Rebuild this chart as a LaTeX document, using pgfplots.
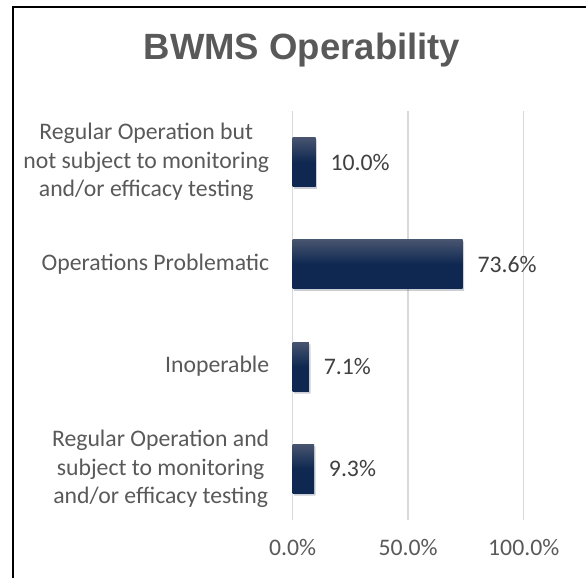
\documentclass[border=0pt]{standalone}
\usepackage{fontspec}
\setmainfont{Carlito}
\newfontfamily\titlefont{Liberation Sans}
\usepackage{pgfplots}
\pgfplotsset{compat=1.18}
\usetikzlibrary{shadows}
\definecolor{barLight}{HTML}{47546F}
\definecolor{barDark}{HTML}{0E2851}
\definecolor{textGray}{HTML}{595959}
\definecolor{valGray}{HTML}{404040}
\definecolor{gridGray}{HTML}{D9D9D9}

\begin{document}
\begin{tikzpicture}
\path[use as bounding box] (0pt,0pt) rectangle (439.5pt,433.5pt);
% chart frame (left and top edges visible)
\draw[line width=1.5pt] (9.4pt,0pt) -- (9.4pt,428.6pt) -- (440pt,428.6pt);
\node[anchor=base, font=\titlefont\bfseries\fontsize{27.4}{32}\selectfont, text=textGray]
    at (226.5pt,388.5pt) {BWMS Operability};

\begin{axis}[
    at={(219.4pt,43.5pt)}, anchor=south west,
    scale only axis,
    width=173.4pt, height=306.75pt,
    xbar, bar shift=0pt,
    bar width=36.75pt,
    xmin=0, xmax=100,
    ymin=-0.5, ymax=3.5,
    xtick={0,50,100},
    xticklabels={0.0\%,50.0\%,100.0\%},
    ytick={0,1,2,3},
    yticklabels={
        {Regular Operation and\\subject to monitoring\\and/or efficacy testing},
        {Inoperable},
        {Operations Problematic},
        {Regular Operation but\\not subject to monitoring\\and/or efficacy testing}},
    xmajorgrids=true,
    grid style={gridGray, line width=1pt},
    axis line style={draw=none},
    tick style={draw=none},
    /pgf/number format/assume math mode=true,
    xticklabel style={font=\fontsize{17.8}{21.5}\selectfont, text=textGray, anchor=north, inner sep=0pt, yshift=-14pt},
    yticklabel style={font=\fontsize{17.8}{21.5}\selectfont, text=textGray, align=center, anchor=east, inner sep=0pt, xshift=-13pt},
    point meta=x,
    nodes near coords={\pgfmathprintnumber[fixed,fixed zerofill,precision=1,assume math mode=true]{\pgfplotspointmeta}\%},
    nodes near coords style={font=\fontsize{17.8}{21.5}\selectfont, text=valGray, anchor=west, inner sep=0pt, xshift=11pt},
    every axis plot/.style={draw=none, top color=barLight, bottom color=barDark, middle color=barDark,
        drop shadow={opacity=0.15, shadow xshift=1pt, shadow yshift=-1.5pt}},
]
\addplot coordinates {(9.3,0)};
\addplot coordinates {(7.1,1)};
\addplot coordinates {(73.6,2)};
\addplot coordinates {(10.0,3)};
\end{axis}
\end{tikzpicture}
\end{document}
